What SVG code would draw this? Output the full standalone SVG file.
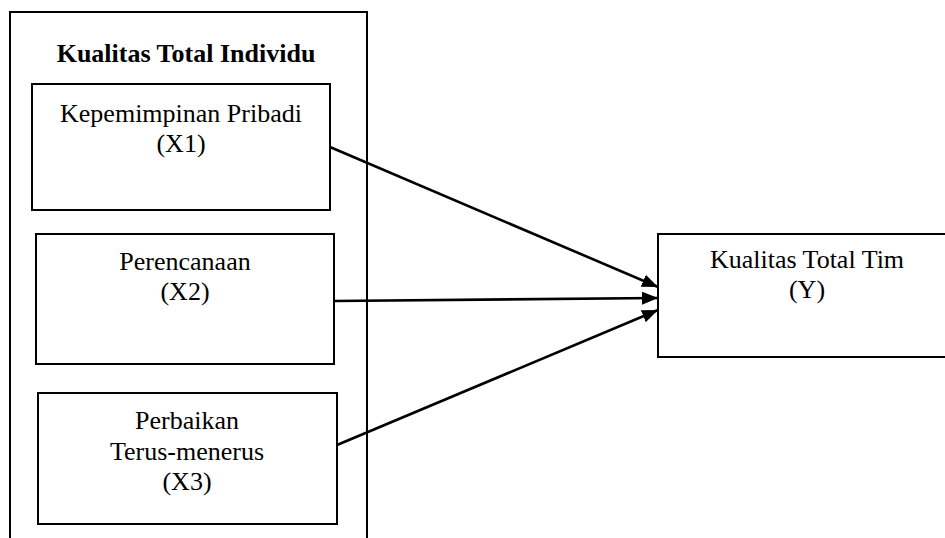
<svg xmlns="http://www.w3.org/2000/svg" width="945" height="538" viewBox="0 0 945 538">
<style>
.box{fill:none;stroke:#000;stroke-width:2}
.t{font-family:"Liberation Serif","Times New Roman",serif;font-size:26px;fill:#000;text-anchor:middle}
.b{font-weight:bold}
.c{stroke:#000;stroke-width:2.6;fill:none}
</style>
<defs>
<marker id="ah" viewBox="0 0 16 13" refX="16" refY="6.5" markerWidth="16" markerHeight="13" markerUnits="userSpaceOnUse" orient="auto">
<path d="M0,0 L16,6.5 L0,13 z" fill="#000"/>
</marker>
</defs>
<rect width="945" height="538" fill="#fff"/>
<g id="group-individu">
<rect class="box" x="10" y="12" width="357" height="540"/>
<text class="t b" x="186" y="62">Kualitas Total Individu</text>
</g>
<g id="x1">
<rect class="box" x="32" y="84" width="298" height="126"/>
<text class="t" x="181" y="122">Kepemimpinan Pribadi</text>
<text class="t" x="181" y="152">(X1)</text>
</g>
<g id="x2">
<rect class="box" x="36" y="234" width="298" height="130"/>
<text class="t" x="185" y="270">Perencanaan</text>
<text class="t" x="185" y="300">(X2)</text>
</g>
<g id="x3">
<rect class="box" x="38" y="393" width="299" height="131"/>
<text class="t" x="187" y="429">Perbaikan</text>
<text class="t" x="187" y="460">Terus-menerus</text>
<text class="t" x="187" y="490">(X3)</text>
</g>
<g id="y">
<rect class="box" x="658" y="234" width="300" height="123"/>
<text class="t" x="807" y="268">Kualitas Total Tim</text>
<text class="t" x="807" y="298">(Y)</text>
</g>
<g id="connectors">
<line class="c" x1="330" y1="147" x2="658" y2="287" marker-end="url(#ah)"/>
<line class="c" x1="334" y1="301" x2="658" y2="298" marker-end="url(#ah)"/>
<line class="c" x1="337" y1="445" x2="658" y2="310" marker-end="url(#ah)"/>
</g>
</svg>
